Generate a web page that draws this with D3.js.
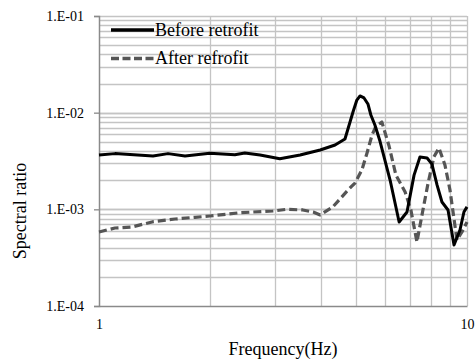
<!DOCTYPE html>
<html><head><meta charset="utf-8">
<script src="https://cdn.jsdelivr.net/npm/d3@7"></script>
<style>body{margin:0;background:#fff}svg{display:block}text{font-family:"Liberation Serif","Times New Roman",serif;fill:#000}</style>
</head><body><svg id="c" width="476" height="361"></svg>
<script>
const beforeFreq = [1.00,1.105,1.214,1.402,1.54,1.713,2.00,2.34,2.49,2.74,3.10,3.52,3.99,4.38,4.66,4.81,4.90,5.02,5.12,5.25,5.38,5.48,5.62,5.80,6.18,6.54,6.87,7.18,7.45,7.79,8.03,8.29,8.55,8.88,9.22,9.57,9.81,10.0];
const beforeVal = [3.65e-3,3.77e-3,3.69e-3,3.56e-3,3.77e-3,3.56e-3,3.80e-3,3.67e-3,3.83e-3,3.65e-3,3.34e-3,3.65e-3,4.11e-3,4.63e-3,5.34e-3,8.0e-3,1.016e-2,1.35e-2,1.49e-2,1.42e-2,1.23e-2,9.46e-3,7.45e-3,5.09e-3,2.01e-3,7.40e-4,9.38e-4,2.26e-3,3.48e-3,3.40e-3,2.94e-3,1.79e-3,1.19e-3,9.85e-4,4.28e-4,6.11e-4,9.38e-4,1.06e-3];
const afterFreq = [1.00,1.105,1.229,1.402,1.609,1.823,2.00,2.42,2.97,3.24,3.58,3.82,3.99,4.32,4.75,4.96,5.18,5.35,5.52,5.66,5.87,6.14,6.41,6.79,7.04,7.31,7.59,7.84,8.13,8.39,8.71,8.99,9.39,9.69,10.0];
const afterVal = [5.83e-4,6.41e-4,6.57e-4,7.45e-4,7.94e-4,8.27e-4,8.53e-4,9.23e-4,9.61e-4,1.0e-3,9.85e-4,9.38e-4,8.74e-4,1.06e-3,1.585e-3,1.87e-3,2.55e-3,3.83e-3,5.87e-3,7.28e-3,8.0e-3,4.52e-3,2.26e-3,1.51e-3,9.85e-4,4.59e-4,9.85e-4,1.87e-3,3.48e-3,4.31e-3,2.88e-3,1.585e-3,4.82e-4,5.83e-4,7.40e-4];
const yTickValues = [1e-4,1e-3,1e-2,1e-1];
const yTickLabels = ["1.E-04","1.E-03","1.E-02","1.E-01"];
const xTickValues = [1,10];
const xTickLabels = ["1","10"];
const seriesNames = ["Before retrofit","After refrofit"];
const xTitle = "Frequency(Hz)";
const yTitle = "Spectral ratio";

const FONT = "'Liberation Serif','Times New Roman',serif";
const svg = d3.select("#c");
const x = d3.scaleLog().domain([1,10]).range([99,467]);
const y = d3.scaleLog().domain([1e-4,1e-1]).range([306,16]);

// grid
const xGrid = d3.range(2,11);
const yGrid = [];
[1e-4,1e-3,1e-2].forEach(d=>{for(let k=1;k<=10;k++){if(d*k>1e-4*1.0001) yGrid.push(d*k);}});
const g = svg.append("g");
g.selectAll(".yg").data(yGrid).enter().append("line")
 .attr("x1",x(1)).attr("x2",x(10)).attr("y1",d=>Math.round(y(d))+0.5).attr("y2",d=>Math.round(y(d))+0.5)
 .attr("stroke","#c4c4c4").attr("stroke-width",1.3);
g.selectAll(".xg").data(xGrid).enter().append("line")
 .attr("y1",y(1e-4)).attr("y2",y(1e-1)).attr("x1",d=>Math.round(x(d))+0.5).attr("x2",d=>Math.round(x(d))+0.5)
 .attr("stroke","#c4c4c4").attr("stroke-width",1.3);

// axes
const yAxis = d3.axisLeft(y).tickValues(yTickValues).tickFormat((d,i)=>yTickLabels[i]).tickSize(5).tickPadding(10);
const ya = svg.append("g").attr("transform","translate(99,0)").call(yAxis).attr("font-family",FONT).attr("font-size",14);
ya.select(".domain").attr("stroke","#8a8a8a").attr("stroke-width",1.5);
ya.selectAll(".tick line").attr("stroke","#8a8a8a").attr("stroke-width",1.3);
ya.selectAll("text").style("font-size","14px").style("font-family",FONT);
const xAxis = d3.axisBottom(x).tickValues(xTickValues).tickFormat((d,i)=>xTickLabels[i]).tickSize(0).tickPadding(13);
const xa = svg.append("g").attr("transform","translate(0,306)").call(xAxis).attr("font-family",FONT).attr("font-size",14);
xa.select(".domain").attr("stroke","#8a8a8a").attr("stroke-width",1.5);
xa.selectAll("text").style("font-size","14px").style("font-family",FONT);

// lines
const line = d3.line().x(d=>x(d[0])).y(d=>y(d[1]));
const bData = beforeFreq.map((f,i)=>[f,beforeVal[i]]);
const aData = afterFreq.map((f,i)=>[f,afterVal[i]]);
svg.append("path").datum(aData).attr("d",line).attr("fill","none").attr("stroke","#555")
 .attr("stroke-width",3.2).attr("stroke-dasharray","8,4").attr("stroke-linejoin","round");
svg.append("path").datum(bData).attr("d",line).attr("fill","none").attr("stroke","#000")
 .attr("stroke-width",3).attr("stroke-linejoin","round");

// legend
const lg = svg.append("g");
lg.append("line").attr("x1",111).attr("x2",154).attr("y1",30).attr("y2",30).attr("stroke","#000").attr("stroke-width",3.5);
lg.append("text").attr("x",155).attr("y",36).style("font-size","18px").text(seriesNames[0]);
lg.append("line").attr("x1",111).attr("x2",154).attr("y1",58.5).attr("y2",58.5).attr("stroke","#555").attr("stroke-width",3.5).attr("stroke-dasharray","8,3.5");
lg.append("text").attr("x",155).attr("y",64).style("font-size","18px").text(seriesNames[1]);

// titles
svg.append("text").attr("x",283).attr("y",355).attr("text-anchor","middle").style("font-size","18px").text(xTitle);
svg.append("text").attr("transform","translate(26,211) rotate(-90)").attr("text-anchor","middle").style("font-size","18px").text(yTitle);
</script></body></html>
